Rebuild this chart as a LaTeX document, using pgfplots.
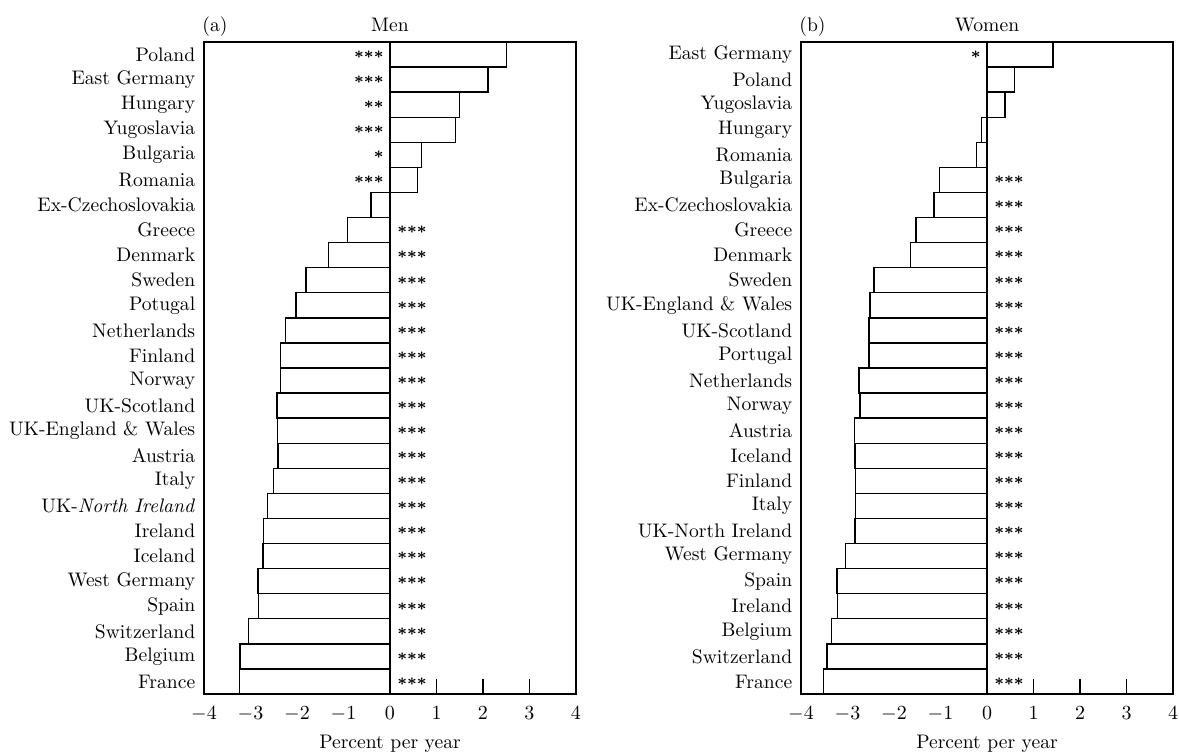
\documentclass[border=0pt]{standalone}
\usepackage{pgfplots}
\usepackage{pgfplotstable}
\pgfplotsset{compat=1.18}
\newcommand\mystars[1]{\mbox{\boldmath$\ifcase#1\relax\or{\ast}\or{\ast}{\ast}\or{\ast}{\ast}{\ast}\fi$}}

\pgfplotstableread{
y x
1 2.50
2 2.11
3 1.49
4 1.41
5 0.68
6 0.59
7 -0.41
8 -0.91
9 -1.32
10 -1.81
11 -2.02
12 -2.25
13 -2.36
14 -2.36
15 -2.43
16 -2.42
17 -2.41
18 -2.51
19 -2.64
20 -2.72
21 -2.73
22 -2.84
23 -2.83
24 -3.04
25 -3.23
26 -3.24
}\menbars
\pgfplotstableread{
y s
1 3
2 3
3 2
4 3
5 1
6 3
}\menstarsL
\pgfplotstableread{
y s
8 3
9 3
10 3
11 3
12 3
13 3
14 3
15 3
16 3
17 3
18 3
19 3
20 3
21 3
22 3
23 3
24 3
25 3
26 3
}\menstarsR
\pgfplotstableread{
y x
1 1.42
2 0.59
3 0.39
4 -0.12
5 -0.23
6 -1.02
7 -1.14
8 -1.53
9 -1.64
10 -2.43
11 -2.52
12 -2.54
13 -2.54
14 -2.75
15 -2.73
16 -2.85
17 -2.84
18 -2.83
19 -2.83
20 -2.84
21 -3.04
22 -3.23
23 -3.21
24 -3.34
25 -3.44
26 -3.52
}\wombars
\pgfplotstableread{
y s
1 1
}\womstarsL
\pgfplotstableread{
y s
6 3
7 3
8 3
9 3
10 3
11 3
12 3
13 3
14 3
15 3
16 3
17 3
18 3
19 3
20 3
21 3
22 3
23 3
24 3
25 3
26 3
}\womstarsR

\pgfplotsset{
  panel/.style={
    scale only axis, width=186pt, height=326pt,
    anchor=south west,
    xmin=-4, xmax=4, ymin=0.5, ymax=26.5, y dir=reverse,
    xtick={-4,-3,...,4}, ytick={1,...,26},
    tick align=inside, major tick length=7.5pt,
    xtick pos=bottom, ytick pos=left,
    ytick style={draw=none},
    xtick style={black, line width=0.7pt},
    axis line style={line width=1pt},
    y tick label style={inner sep=0pt, xshift=-4.2pt},
    x tick label style={yshift=-3pt, font=\fontsize{10.2}{12}\selectfont},
    xlabel={Percent per year},
    xlabel style={at={(axis description cs:0.5,0)}, anchor=base, yshift=-27pt, inner sep=0pt},
    every axis title/.style={at={(axis description cs:0.5,1)}, anchor=base, yshift=5.5pt, inner sep=0pt},
    clip=false,
  },
  barst/.style={xbar, bar width=1, fill=white, draw=black, line width=0.7pt},
  starsL/.style={draw=none, mark=none, nodes near coords={\mystars{\pgfplotspointmeta}},
    point meta=explicit symbolic,
    nodes near coords style={anchor=east, inner sep=0pt, xshift=-3pt, font=\fontsize{7.8}{9}\selectfont}},
  starsR/.style={draw=none, mark=none, nodes near coords={\mystars{\pgfplotspointmeta}},
    point meta=explicit symbolic,
    nodes near coords style={anchor=west, inner sep=0pt, xshift=3.5pt, font=\fontsize{7.8}{9}\selectfont}},
}

\begin{document}
\fontsize{9.8}{11}\selectfont
\begin{tikzpicture}
\path[use as bounding box] (0,0) rectangle (589.5pt,375.5pt);
\begin{axis}[panel, at={(102pt,28.5pt)}, title={Men},
  yticklabels={Poland, East Germany, Hungary, Yugoslavia, Bulgaria, Romania, Ex-Czechoslovakia, Greece, Denmark, Sweden, Potugal, Netherlands, Finland, Norway, UK-Scotland, UK-England \& Wales, Austria, Italy, UK-\textit{North Ireland}, Ireland, Iceland, West Germany, Spain, Switzerland, Belgium, France}]
\addplot[barst] table[x=x, y=y] {\menbars};
\addplot[black, line width=0.7pt] coordinates {(0,0.5) (0,26.5)};
\addplot[starsL] table[x expr=0, y=y, meta=s] {\menstarsL};
\addplot[starsR] table[x expr=0, y=y, meta=s] {\menstarsR};
\node[anchor=base west, inner sep=0pt, yshift=5.5pt, xshift=-1pt] at (rel axis cs:0,1) {(a)};
\end{axis}
\begin{axis}[panel, at={(400.5pt,28.5pt)}, title={Women},
  yticklabels={East Germany, Poland, Yugoslavia, Hungary, Romania, Bulgaria, Ex-Czechoslovakia, Greece, Denmark, Sweden, UK-England \& Wales, UK-Scotland, Portugal, Netherlands, Norway, Austria, Iceland, Finland, Italy, UK-North Ireland, West Germany, Spain, Ireland, Belgium, Switzerland, France}]
\addplot[barst] table[x=x, y=y] {\wombars};
\addplot[black, line width=0.7pt] coordinates {(0,0.5) (0,26.5)};
\addplot[starsL] table[x expr=0, y=y, meta=s] {\womstarsL};
\addplot[starsR] table[x expr=0, y=y, meta=s] {\womstarsR};
\node[anchor=base west, inner sep=0pt, yshift=5.5pt, xshift=-1pt] at (rel axis cs:0,1) {(b)};
\end{axis}
\end{tikzpicture}
\end{document}
